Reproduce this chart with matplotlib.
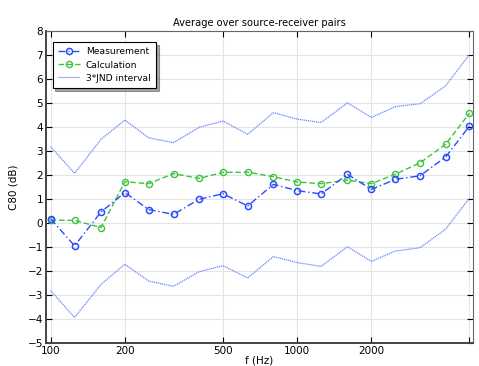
import matplotlib
matplotlib.use("Agg")
import matplotlib.pyplot as plt

# third-octave band centre frequencies (Hz)
freqs = [100, 125, 160, 200, 250, 315, 400, 500, 630, 800,
         1000, 1250, 1600, 2000, 2500, 3150, 4000, 5000]

measurement = [0.17, -0.95, 0.46, 1.27, 0.56, 0.36, 0.99, 1.22, 0.71, 1.61,
               1.35, 1.21, 2.03, 1.40, 1.82, 1.97, 2.75, 4.04]
calculation = [0.12, 0.11, -0.19, 1.72, 1.64, 2.06, 1.86, 2.11, 2.12, 1.93,
               1.71, 1.64, 1.79, 1.64, 2.03, 2.51, 3.28, 4.58]
jnd_upper = [3.18, 2.07, 3.49, 4.29, 3.55, 3.35, 3.99, 4.25, 3.70, 4.60,
             4.33, 4.19, 5.01, 4.40, 4.85, 4.97, 5.72, 7.02]
jnd_lower = [-2.82, -3.94, -2.56, -1.72, -2.42, -2.64, -2.03, -1.78, -2.29, -1.40,
             -1.65, -1.81, -0.99, -1.60, -1.17, -1.03, -0.26, 1.04]

xticks = [100, 200, 500, 1000, 2000, 5000]
xticklabels = ["100", "200", "500", "1000", "2000", ""]

blue = "#2a4cff"
green = "#3cc43c"
light_blue = "#6f86ff"

fig = plt.figure(figsize=(4.79, 3.66), dpi=100)
ax = fig.add_axes([0.096, 0.063, 0.892, 0.852])

ax.plot(freqs, measurement, linestyle=(0, (5, 2, 1, 2)), color=blue, lw=1.0,
        marker="o", markersize=4.4, markerfacecolor="none", markeredgewidth=1.1,
        label="Measurement", zorder=4)
ax.plot(freqs, calculation, linestyle=(0, (4, 2)), color=green, lw=1.0,
        marker="o", markersize=4.4, markerfacecolor="none", markeredgewidth=1.0,
        label="Calculation", zorder=3)
ax.plot(freqs, jnd_upper, linestyle=(0, (1, 0.6)), color=light_blue, lw=0.9,
        label="3*JND interval")
ax.plot(freqs, jnd_lower, linestyle=(0, (1, 0.6)), color=light_blue, lw=0.9)

ax.set_xscale("log")
ax.set_xlim(95.7, 5180)
ax.set_ylim(-5, 8)
ax.set_xticks(xticks)
ax.set_xticklabels(xticklabels)
ax.minorticks_off()
ax.set_yticks(range(-5, 9))

ax.grid(True, color="#e4e4e4", lw=0.8)
ax.set_axisbelow(True)
ax.tick_params(direction="in", top=True, right=True, labelsize=7.5,
               length=4, width=0.8, pad=2)
for side in ["left", "bottom"]:
    ax.spines[side].set_linewidth(1.4)
    ax.spines[side].set_color("#444444")
for side in ["top", "right"]:
    ax.spines[side].set_linewidth(0.8)
    ax.spines[side].set_color("#666666")

ax.set_title("Average over source-receiver pairs", fontsize=7.1, pad=4)
ax.set_xlabel("f (Hz)", fontsize=7.5, labelpad=0)
ax.set_ylabel("C80 (dB)", fontsize=7.5, labelpad=7)

leg = ax.legend(loc="upper left", fontsize=6.6, fancybox=False, shadow=True,
                framealpha=1, edgecolor="black", borderpad=0.6,
                handlelength=2.4, handletextpad=0.6, labelspacing=0.45,
                bbox_to_anchor=(0.005, 0.98))
leg.get_frame().set_linewidth(0.8)

fig.savefig("out.png", dpi=100)
